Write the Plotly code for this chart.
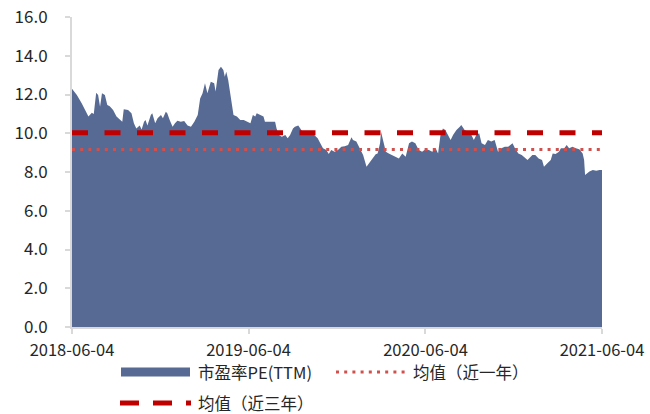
import plotly.graph_objects as go

# 市盈率PE(TTM) readings, 2018-06 to 2021-06
dates = [
    "2018-06-04", "2018-06-14", "2018-06-24", "2018-07-04", "2018-07-08", "2018-07-15",
    "2018-07-19", "2018-07-24", "2018-07-28", "2018-08-01", "2018-08-05", "2018-08-11",
    "2018-08-16", "2018-08-21", "2018-08-28", "2018-09-04", "2018-09-11", "2018-09-16",
    "2018-09-19", "2018-09-28", "2018-10-05", "2018-10-10", "2018-10-15", "2018-10-22",
    "2018-10-26", "2018-10-31", "2018-11-03", "2018-11-07", "2018-11-14", "2018-11-17",
    "2018-11-23", "2018-11-28", "2018-12-05", "2018-12-09", "2018-12-15", "2018-12-18",
    "2018-12-23", "2018-12-29", "2019-01-03", "2019-01-08", "2019-01-15", "2019-01-22",
    "2019-01-29", "2019-02-05", "2019-02-12", "2019-02-19", "2019-02-24", "2019-03-01",
    "2019-03-06", "2019-03-11", "2019-03-18", "2019-03-25", "2019-03-28", "2019-04-03",
    "2019-04-08", "2019-04-13", "2019-04-16", "2019-04-19", "2019-04-23", "2019-04-27",
    "2019-05-01", "2019-05-04", "2019-05-11", "2019-05-18", "2019-05-25", "2019-06-01",
    "2019-06-08", "2019-06-13", "2019-06-18", "2019-06-21", "2019-06-28", "2019-07-05",
    "2019-07-08", "2019-07-15", "2019-07-22", "2019-07-29", "2019-08-01", "2019-08-06",
    "2019-08-12", "2019-08-19", "2019-08-24", "2019-08-29", "2019-09-04", "2019-09-08",
    "2019-09-15", "2019-09-19", "2019-09-28", "2019-10-08", "2019-10-18", "2019-10-25",
    "2019-10-29", "2019-11-05", "2019-11-12", "2019-11-17", "2019-11-22", "2019-11-29",
    "2019-12-06", "2019-12-13", "2019-12-20", "2019-12-27", "2020-01-03", "2020-01-06",
    "2020-01-13", "2020-01-20", "2020-01-27", "2020-02-03", "2020-02-10", "2020-02-17",
    "2020-02-22", "2020-02-26", "2020-03-02", "2020-03-04", "2020-03-09", "2020-03-14",
    "2020-03-20", "2020-03-27", "2020-04-03", "2020-04-10", "2020-04-17", "2020-04-24",
    "2020-05-01", "2020-05-07", "2020-05-14", "2020-05-21", "2020-05-28", "2020-06-04",
    "2020-06-11", "2020-06-18", "2020-06-25", "2020-06-30", "2020-07-05", "2020-07-10",
    "2020-07-15", "2020-07-20", "2020-07-26", "2020-07-31", "2020-08-07", "2020-08-14",
    "2020-08-17", "2020-08-24", "2020-08-31", "2020-09-07", "2020-09-12", "2020-09-17",
    "2020-09-23", "2020-09-28", "2020-10-05", "2020-10-11", "2020-10-18", "2020-10-25",
    "2020-11-01", "2020-11-08", "2020-11-15", "2020-11-22", "2020-12-01", "2020-12-06",
    "2020-12-13", "2020-12-20", "2020-12-27", "2021-01-01", "2021-01-04", "2021-01-11",
    "2021-01-17", "2021-01-24", "2021-01-31", "2021-02-04", "2021-02-11", "2021-02-18",
    "2021-02-22", "2021-02-28", "2021-03-07", "2021-03-11", "2021-03-18", "2021-03-23",
    "2021-03-28", "2021-04-04", "2021-04-11", "2021-04-18", "2021-04-25", "2021-04-28",
    "2021-04-30", "2021-05-09", "2021-05-16", "2021-05-23", "2021-05-30", "2021-06-04",
]
pe_ttm = [
    12.30, 11.97, 11.55, 11.03, 10.86, 11.06,
    11.00, 12.09, 11.97, 11.37, 12.06, 11.97,
    11.46, 11.40, 11.20, 10.86, 10.72, 10.60,
    11.24, 11.20, 11.03, 10.51, 10.25, 10.40,
    10.20, 10.60, 10.68, 10.40, 10.94, 11.03,
    10.51, 10.77, 10.94, 10.77, 11.11, 11.03,
    10.68, 10.34, 10.51, 10.65, 10.60, 10.63,
    10.40, 10.34, 10.60, 10.94, 11.80, 12.06,
    12.58, 12.06, 12.66, 12.58, 12.15, 13.26,
    13.43, 13.26, 12.92, 13.17, 12.75, 12.06,
    11.37, 10.94, 10.86, 10.68, 10.68, 10.60,
    10.51, 10.94, 10.86, 11.03, 10.94, 10.86,
    10.60, 10.60, 10.60, 10.60, 10.25, 9.91,
    9.82, 9.91, 9.74, 9.91, 10.25, 10.34,
    10.40, 10.25, 9.91, 9.91, 9.91, 9.74,
    9.57, 9.22, 9.14, 8.93, 9.14, 9.05,
    9.14, 9.30, 9.33, 9.40, 9.79, 9.65,
    9.57, 9.22, 8.88, 8.27, 8.53, 8.79,
    8.92, 8.96, 9.48, 10.08, 9.57, 9.05,
    8.96, 8.88, 8.79, 8.70, 8.96, 8.79,
    9.48, 9.57, 9.48, 9.14, 9.05, 9.17,
    9.14, 9.05, 9.22, 8.96, 9.91, 10.25,
    10.17, 9.91, 9.65, 9.91, 10.17, 10.34,
    10.43, 10.17, 10.08, 9.91, 9.65, 9.91,
    10.00, 9.48, 9.40, 9.65, 9.57, 9.65,
    9.05, 9.22, 9.30, 9.30, 9.48, 9.22,
    8.96, 8.88, 8.70, 8.62, 8.70, 8.88,
    8.88, 8.70, 8.62, 8.27, 8.45, 8.62,
    8.96, 8.93, 9.05, 9.22, 9.22, 9.40,
    9.22, 9.30, 9.22, 9.17, 8.96, 8.62,
    7.85, 8.02, 8.10, 8.07, 8.10, 8.10,
]

# Reference levels
mean_1y = 9.16   # 均值（近一年）
mean_3y = 10.03  # 均值（近三年）

series_names = ["市盈率PE(TTM)", "均值（近一年）", "均值（近三年）"]

x_start = "2018-06-04"
x_end = "2021-06-04"
tick_dates = ["2018-06-04", "2019-06-04", "2020-06-04", "2021-06-04"]
y_ticks = [0, 2, 4, 6, 8, 10, 12, 14, 16]

font_family = "Noto Sans CJK SC"
text_color = "#262626"
axis_gray = "#D9D9D9"
area_color = "#566A94"
dot_color = "#D0504D"
dash_color = "#C00000"
dot_style = "3px,5.2px"
dash_style = "16px,16.5px"

fig = go.Figure()

fig.add_trace(go.Scatter(
    x=dates, y=pe_ttm, name=series_names[0],
    mode="lines", fill="tozeroy",
    line=dict(width=0, color=area_color),
    fillcolor=area_color,
))

fig.add_trace(go.Scatter(
    x=[x_start, x_end], y=[mean_1y, mean_1y], name=series_names[1],
    mode="lines",
    line=dict(color=dot_color, width=3, dash=dot_style),
))

fig.add_trace(go.Scatter(
    x=[x_start, x_end], y=[mean_3y, mean_3y], name=series_names[2],
    mode="lines",
    line=dict(color=dash_color, width=5, dash=dash_style),
    cliponaxis=False,
))

# Legend drawn beneath the axes: two entries on the first row, one on the second
plot_l, plot_r, plot_t, plot_b = 72, 602, 17, 327


def px_x(px):
    return (px - plot_l) / (plot_r - plot_l)


def px_y(py):
    return (plot_b - py) / (plot_b - plot_t)


row1, row2 = 372, 403
legend_shapes = [
    dict(type="rect", xref="paper", yref="paper",
         x0=px_x(121), x1=px_x(190), y0=px_y(row1 + 4.5), y1=px_y(row1 - 4.5),
         fillcolor=area_color, line=dict(width=0)),
    dict(type="line", xref="paper", yref="paper",
         x0=px_x(336), x1=px_x(405), y0=px_y(row1), y1=px_y(row1),
         line=dict(color=dot_color, width=3, dash=dot_style)),
    dict(type="line", xref="paper", yref="paper",
         x0=px_x(120), x1=px_x(191), y0=px_y(row2), y1=px_y(row2),
         line=dict(color=dash_color, width=5, dash="19px,14px")),
]
legend_labels = [
    (series_names[0], 196, row1),
    (series_names[1], 411, row1),
    (series_names[2], 196, row2),
]
legend_annotations = [
    dict(text=t, xref="paper", yref="paper", x=px_x(lx), y=px_y(ly),
         xanchor="left", yanchor="middle", showarrow=False,
         font=dict(family=font_family, size=16.5, color=text_color))
    for t, lx, ly in legend_labels
]

fig.update_layout(
    width=650, height=414,
    margin=dict(l=plot_l, r=650 - plot_r, t=plot_t, b=414 - plot_b),
    paper_bgcolor="white", plot_bgcolor="white",
    font=dict(family=font_family, size=15, color=text_color),
    showlegend=False,
    shapes=legend_shapes,
    annotations=legend_annotations,
    xaxis=dict(
        type="date",
        range=[x_start, x_end],
        tickvals=tick_dates,
        ticktext=tick_dates,
        automargin=False,
        showgrid=False, zeroline=False,
        showline=True, linecolor=axis_gray, linewidth=2,
        ticks="outside", tickcolor=axis_gray, ticklen=5, tickwidth=2,
        ticklabelstandoff=2,
        tickfont=dict(family=font_family, size=16.5, color=text_color),
    ),
    yaxis=dict(
        range=[0, 16],
        tickvals=y_ticks,
        tickformat=".1f",
        automargin=False,
        showgrid=False, zeroline=False,
        showline=True, linecolor=axis_gray, linewidth=2,
        ticks="outside", tickcolor=axis_gray, ticklen=5, tickwidth=2,
        ticklabelstandoff=14,
        tickfont=dict(family=font_family, size=17, color=text_color),
    ),
)

fig.write_html("out.html")
